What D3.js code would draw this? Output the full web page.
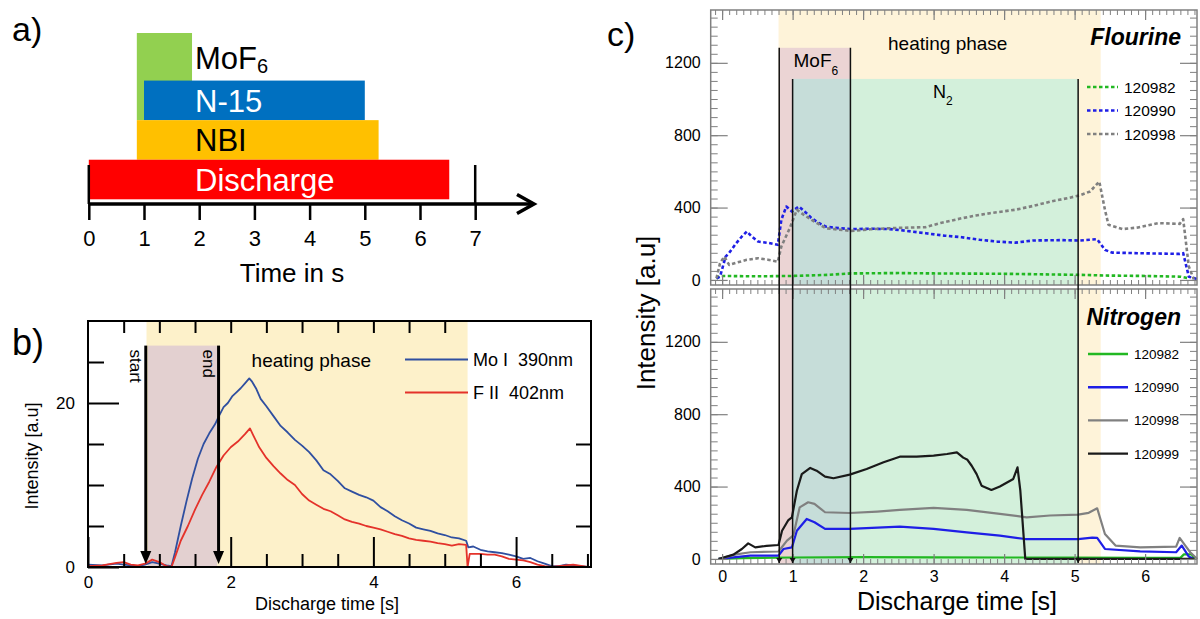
<!DOCTYPE html>
<html>
<head>
<meta charset="utf-8">
<script src="https://cdn.jsdelivr.net/npm/d3@7"></script>
<style>
  body { margin: 0; background: #fff; }
  svg text { font-family: "Liberation Sans", Arial, sans-serif; }
</style>
</head>
<body>
<div id="chart"></div>
<script>
var width = 1200, height = 619;
var FONT = '"Liberation Sans", Arial, sans-serif';

// ---------- a) timing ----------
var phaseNames = ["MoF6", "N-15", "NBI", "Discharge"];
var phaseStart = [0.87, 1.0, 0.87, 0.0];
var phaseEnd   = [1.87, 5.0, 5.25, 6.53];
var timeTicks  = [0, 1, 2, 3, 4, 5, 6, 7];

// ---------- b) line intensities (t [s], a.u.) ----------
var moI390 = [[0,0.3],[0.2,0.2],[0.4,0.4],[0.5,0.3],[0.6,0.2],[0.7,0.1],[0.8,0.3],[0.9,0.6],[1.0,0.4],[1.1,0.2],[1.17,0.1],
  [1.22,1.8],[1.3,5.0],[1.38,8.0],[1.46,10.8],[1.54,13.2],[1.62,15.0],[1.7,16.3],[1.78,17.4],[1.84,18.5],[1.9,19.5],
  [1.96,20.0],[2.02,20.8],[2.08,21.3],[2.14,21.8],[2.2,22.4],[2.26,23.0],[2.3,22.6],[2.36,21.7],[2.42,20.5],[2.5,19.6],
  [2.6,18.4],[2.7,17.2],[2.8,16.4],[2.9,15.5],[3.0,14.8],[3.1,14.0],[3.2,13.0],[3.3,11.8],[3.4,11.3],[3.5,10.5],[3.6,9.6],
  [3.7,9.2],[3.8,8.8],[3.9,8.5],[4.0,8.1],[4.1,7.3],[4.2,6.8],[4.3,6.2],[4.4,5.7],[4.5,5.3],[4.6,4.8],[4.7,4.6],[4.8,4.4],
  [4.9,4.1],[5.0,3.9],[5.1,3.6],[5.2,3.5],[5.3,3.2],[5.33,2.4],[5.4,2.5],[5.5,2.1],[5.6,1.9],[5.7,1.8],[5.8,1.7],[5.9,1.5],
  [6.0,1.3],[6.1,1.0],[6.2,1.1],[6.3,0.7],[6.4,0.4],[6.5,0.1],[6.6,0.1],[6.7,0.3],[6.8,0.2],[6.9,0.1],[7.0,0.0]];
var fII402 = [[0,0.1],[0.2,0.2],[0.4,0.5],[0.5,0.6],[0.6,0.3],[0.7,0.2],[0.8,0.4],[0.9,0.9],[1.0,0.6],[1.1,0.1],[1.17,0.0],
  [1.22,1.2],[1.3,3.2],[1.4,5.0],[1.5,7.0],[1.6,8.8],[1.7,10.4],[1.8,12.2],[1.9,13.6],[2.0,14.6],[2.1,15.3],[2.2,16.2],
  [2.27,16.9],[2.32,16.0],[2.4,14.6],[2.5,13.3],[2.6,12.3],[2.7,11.4],[2.8,10.6],[2.9,10.0],[3.0,8.9],[3.1,8.1],[3.2,7.6],
  [3.3,7.1],[3.4,6.8],[3.5,6.3],[3.6,5.8],[3.7,5.5],[3.8,5.3],[3.9,5.0],[4.0,4.8],[4.1,4.6],[4.2,4.3],[4.3,4.0],[4.4,3.8],
  [4.5,3.5],[4.6,3.3],[4.7,3.2],[4.8,3.1],[4.9,2.9],[5.0,2.8],[5.1,2.6],[5.2,2.8],[5.3,2.7],[5.32,0.0],[5.35,1.6],[5.5,1.6],
  [5.6,1.5],[5.7,1.5],[5.8,1.3],[5.9,1.0],[6.0,0.9],[6.1,0.8],[6.2,0.6],[6.3,0.3],[6.4,0.1],[6.5,0.0],[6.7,0.2],[6.8,0.3],[7.0,0.0]];
var legendB   = ["Mo I  390nm", "F II  402nm"];
var heatingB  = [0.82, 5.32];
var injectB   = [0.84, 1.81];   // MoF6 shaded window
var injectTopB = 27;
var arrowsB   = [0.81, 1.83];
var arrowTextB = ["start", "end"];

// ---------- c) fluorine / nitrogen ----------
var shots = ["120982", "120990", "120998", "120999"];
var fl120982 = [[-0.08,9],[-0.03,22],[0.5,20],[1.0,22],[1.5,28],[1.83,36],[2.5,38],[3.0,36],[4.0,34],[5.07,28],[5.5,24],[6.0,22],[6.5,18],[6.62,9]];
var fl120990 = [[-0.08,9],[-0.03,18],[0.05,129],[0.1,150],[0.2,203],[0.28,240],[0.35,268],[0.42,240],[0.51,212],[0.65,205],[0.79,194],
  [0.84,332],[0.91,406],[0.99,378],[1.09,406],[1.18,375],[1.27,341],[1.37,315],[1.47,295],[1.6,288],[1.83,281],[2.1,283],[2.38,281],
  [2.6,272],[2.89,258],[3.15,245],[3.4,236],[3.65,222],[3.9,212],[4.16,206],[4.41,218],[4.8,220],[5.07,218],[5.32,225],[5.43,166],
  [5.53,151],[6.0,147],[6.49,144],[6.54,148],[6.62,18],[6.74,4]];
var fl120998 = [[-0.08,9],[-0.03,92],[0.03,129],[0.1,83],[0.2,95],[0.35,111],[0.51,120],[0.65,112],[0.79,101],[0.84,185],[0.96,286],
  [1.06,388],[1.15,362],[1.27,332],[1.47,286],[1.83,271],[2.1,280],[2.38,286],[2.89,292],[3.1,315],[3.4,341],[3.6,356],[3.8,369],
  [4.16,388],[4.4,408],[4.67,434],[4.9,452],[5.07,467],[5.22,489],[5.35,544],[5.43,388],[5.48,305],[5.68,281],[5.9,290],[6.19,314],
  [6.49,310],[6.54,336],[6.62,74],[6.69,4]];
var ni120982 = [[-0.05,0],[0.3,5],[1.0,8],[2.0,10],[3.0,9],[4.0,8],[5.0,8],[6.0,6],[6.5,6],[6.55,25],[6.66,25],[6.7,0]];
var ni120990 = [[-0.05,0],[0.4,18],[0.8,18],[0.87,55],[0.99,64],[1.06,156],[1.2,221],[1.31,203],[1.46,166],[1.81,166],[2.52,179],
  [3.0,166],[3.47,147],[3.94,129],[4.3,110],[5.05,110],[5.25,118],[5.32,116],[5.43,55],[5.93,42],[6.44,37],[6.52,74],[6.62,13],[6.69,0]];
var ni120998 = [[-0.05,0],[0.2,25],[0.4,37],[0.8,41],[0.92,101],[1.01,130],[1.10,285],[1.22,313],[1.31,304],[1.46,258],[1.81,254],
  [2.2,262],[2.52,271],[3.0,282],[3.47,271],[3.94,249],[4.32,230],[4.65,240],[5.05,245],[5.2,255],[5.32,280],[5.43,138],[5.58,74],
  [5.93,64],[6.44,68],[6.49,116],[6.57,74],[6.64,37],[6.74,0]];
var ni120999 = [[-0.05,0],[0.16,24],[0.28,55],[0.37,86],[0.47,64],[0.63,72],[0.8,77],[0.85,156],[0.94,215],[0.99,230],[1.06,377],
  [1.13,469],[1.25,503],[1.34,488],[1.46,455],[1.58,446],[1.81,466],[2.05,497],[2.29,534],[2.52,565],[2.76,565],[3.0,571],[3.19,580],
  [3.33,589],[3.42,560],[3.48,548],[3.54,515],[3.61,469],[3.68,405],[3.82,381],[3.94,400],[4.13,442],[4.19,506],[4.23,377],[4.30,0],[6.7,0]];
var heatingC = [0.80, 5.37];
var mofC     = [0.81, 1.82];
var mofTopC  = 1283;
var n2C      = [1.0, 5.05];
var n2TopC   = 1111;
var yTicksC  = [0, 400, 800, 1200];
var xTicksC  = [0, 1, 2, 3, 4, 5, 6];

var svg = d3.select("#chart").append("svg")
  .attr("width", width)
  .attr("height", height);

function styleAxis(g, color, w, fs) {
  g.attr("font-family", FONT).attr("font-size", fs);
  g.select(".domain").remove();
  g.selectAll(".tick line").attr("stroke", color).attr("stroke-width", w);
  g.selectAll(".tick text").attr("fill", "#000");
}

// ================= panel a =================
var ga = svg.append("g");
var xa = d3.scaleLinear().domain([0, 7]).range([88.8, 475.2]);
var ya = d3.scaleBand().domain(phaseNames).range([41, 199.3]);
var barColor = { "MoF6": "#92D050", "N-15": "#0070C0", "NBI": "#FFC000", "Discharge": "#FF0000" };
var barText  = { "MoF6": "#000", "N-15": "#fff", "NBI": "#000", "Discharge": "#fff" };

ga.selectAll("rect.bar")
  .data(phaseNames)
  .enter().append("rect")
    .attr("class", "bar")
    .attr("x", function(d, i) { return xa(phaseStart[i]); })
    .attr("width", function(d, i) { return xa(phaseEnd[i]) - xa(phaseStart[i]); })
    .attr("y", function(d) { return d === "MoF6" ? ya(d) - 8 : ya(d); })
    .attr("height", function(d) { return d === "MoF6" ? ya.bandwidth() * 2 + 8 : ya.bandwidth(); })
    .attr("fill", function(d) { return barColor[d]; });

var labA = ga.selectAll("text.bar")
  .data(phaseNames)
  .enter().append("text")
    .attr("class", "bar")
    .attr("x", xa(phaseEnd[0]) + 3)
    .attr("y", function(d) { return ya(d) + ya.bandwidth() / 2 + (d === "MoF6" ? 8 : 11.5); })
    .attr("fill", function(d) { return barText[d]; })
    .style("font-size", "31px");
labA.each(function(d) {
  var t = d3.select(this);
  if (d === "MoF6") {
    t.append("tspan").text("MoF");
    t.append("tspan").attr("dy", 4).style("font-size", "20px").text("6");
  } else {
    t.text(d);
  }
});

// time axis with arrow
ga.append("line")
  .attr("x1", xa(0)).attr("x2", 533)
  .attr("y1", 204).attr("y2", 204)
  .attr("stroke", "#000").attr("stroke-width", 3.5);
ga.append("path")
  .attr("d", "M517,194.5L534,204L517,213.5")
  .attr("fill", "none").attr("stroke", "#000").attr("stroke-width", 3.5);
var axA = ga.append("g")
  .attr("transform", "translate(0,204)")
  .call(d3.axisBottom(xa).tickValues(timeTicks).tickSize(16).tickPadding(10).tickFormat(d3.format("d")));
styleAxis(axA, "#000", 2.5, 22);
ga.selectAll("line.long")
  .data([0, 7])
  .enter().append("line")
    .attr("class", "long")
    .attr("x1", function(d) { return xa(d); }).attr("x2", function(d) { return xa(d); })
    .attr("y1", 165).attr("y2", 204)
    .attr("stroke", "#000").attr("stroke-width", 2.5);
ga.append("text")
  .attr("x", 292).attr("y", 282)
  .attr("text-anchor", "middle")
  .style("font-size", "26px")
  .text("Time in s");
svg.append("text").attr("x", 12).attr("y", 41).style("font-size", "34px").text("a)");

// ================= panel b =================
var gb = svg.append("g");
var xb = d3.scaleLinear().domain([0, 7.05]).range([88, 591]);
var yb = d3.scaleLinear().domain([0, 30]).range([567, 321]);

gb.append("rect")
  .attr("x", xb(heatingB[0])).attr("y", yb(30))
  .attr("width", xb(heatingB[1]) - xb(heatingB[0]))
  .attr("height", yb(0) - yb(30))
  .attr("fill", "#FDF1CA");
gb.append("rect")
  .attr("x", xb(injectB[0])).attr("y", yb(injectTopB))
  .attr("width", xb(injectB[1]) - xb(injectB[0]))
  .attr("height", yb(0) - yb(injectTopB))
  .attr("fill", "#E3D0D0");

var lineB = d3.line()
  .x(function(d) { return xb(d[0]); })
  .y(function(d) { return yb(d[1]); });
var colorB = ["#2F4FA0", "#E4322A"];
[moI390, fII402].forEach(function(s, i) {
  gb.append("path").datum(s)
    .attr("d", lineB)
    .attr("fill", "none")
    .attr("stroke", colorB[i])
    .attr("stroke-width", 1.8)
    .attr("stroke-linejoin", "round");
});

// arrows start / end
arrowsB.forEach(function(t, i) {
  var x = xb(t), tip = yb(0) - 3;
  gb.append("line")
    .attr("x1", x).attr("x2", x)
    .attr("y1", yb(injectTopB)).attr("y2", tip - 10)
    .attr("stroke", "#000").attr("stroke-width", 3);
  gb.append("path")
    .attr("d", "M" + (x - 5.5) + "," + (tip - 13) + "L" + (x + 5.5) + "," + (tip - 13) + "L" + x + "," + tip + "Z")
    .attr("fill", "#000");
  gb.append("text")
    .attr("transform", "translate(" + (x - 16) + "," + (yb(injectTopB) + 4) + ") rotate(90)")
    .style("font-size", "17px")
    .text(arrowTextB[i]);
});

gb.append("text")
  .attr("x", 251.6).attr("y", 367)
  .style("font-size", "19px")
  .text("heating phase");

legendB.forEach(function(d, i) {
  var y = 359.5 + i * 33;
  gb.append("line")
    .attr("x1", 405).attr("x2", 468).attr("y1", y).attr("y2", y)
    .attr("stroke", colorB[i]).attr("stroke-width", 2);
  gb.append("text")
    .attr("x", 473).attr("y", y + 6.5)
    .style("font-size", "18px")
    .style("white-space", "pre")
    .text(d);
});

// axes b (ticks inward)
var axB1 = gb.append("g").attr("transform", "translate(0," + yb(0) + ")")
  .call(d3.axisBottom(xb).tickValues([0, 2, 4, 6]).tickSize(-30).tickPadding(13).tickFormat(d3.format("d")));
styleAxis(axB1, "#000", 2, 17);
var axB2 = gb.append("g").attr("transform", "translate(0," + yb(0) + ")")
  .call(d3.axisBottom(xb).tickValues([0.5, 1, 1.5, 2.5, 3, 3.5, 4.5, 5, 5.5, 6.5, 7]).tickSize(-13).tickFormat(""));
styleAxis(axB2, "#000", 2, 17);
var axB3 = gb.append("g").attr("transform", "translate(0," + yb(30) + ")")
  .call(d3.axisTop(xb).tickValues(d3.range(1, 11).map(function(k) { return k / 2; })).tickSize(-12).tickFormat(""));
styleAxis(axB3, "#000", 2, 17);
var axB4 = gb.append("g").attr("transform", "translate(" + xb(0) + ",0)")
  .call(d3.axisLeft(yb).tickValues([0, 20]).tickSize(-31).tickPadding(13).tickFormat(d3.format("d")));
styleAxis(axB4, "#000", 2, 17);
var axB5 = gb.append("g").attr("transform", "translate(" + xb(0) + ",0)")
  .call(d3.axisLeft(yb).tickValues([5, 10, 15, 25]).tickSize(-16).tickFormat(""));
styleAxis(axB5, "#000", 2, 17);
var axB6 = gb.append("g").attr("transform", "translate(" + xb(7.05) + ",0)")
  .call(d3.axisRight(yb).tickValues([5, 10, 15]).tickSize(-15).tickFormat(""));
styleAxis(axB6, "#000", 2, 17);
axB1.selectAll(".tick text").attr("dy", "0.45em");

gb.append("rect")
  .attr("x", xb(0)).attr("y", yb(30))
  .attr("width", xb(7.05) - xb(0)).attr("height", yb(0) - yb(30))
  .attr("fill", "none").attr("stroke", "#000").attr("stroke-width", 2);

gb.append("text")
  .attr("x", 327).attr("y", 610)
  .attr("text-anchor", "middle")
  .style("font-size", "18px")
  .text("Discharge time [s]");
gb.append("text")
  .attr("transform", "translate(37.5,456) rotate(-90)")
  .attr("text-anchor", "middle")
  .style("font-size", "18px")
  .text("Intensity [a.u]");
svg.append("text").attr("x", 12).attr("y", 355).style("font-size", "36px").text("b)");

// ================= panel c =================
var gc = svg.append("g");
var xc = d3.scaleLinear().domain([-0.162, 6.736]).range([710.7, 1197]);
var shotColor = { "120982": "#22B822", "120990": "#1E1EE6", "120998": "#808080", "120999": "#1A1A1A" };
var frameC = "#808080";

var panelsC = [
  { top: 10,  bottom: 285, title: "Flourine", series: [fl120982, fl120990, fl120998], dashed: true, full: false },
  { top: 289, bottom: 564, title: "Nitrogen", series: [ni120982, ni120990, ni120998, ni120999], dashed: false, full: true }
];

panelsC.forEach(function(p) {
  var yc = d3.scaleLinear().domain([-28, 1492]).range([p.bottom, p.top]);
  p.y = yc;
  var g = gc.append("g");
  function shade(span, topVal, color) {
    var yt = p.full ? yc(1492) : yc(topVal);
    g.append("rect")
      .attr("x", xc(span[0])).attr("width", xc(span[1]) - xc(span[0]))
      .attr("y", yt).attr("height", p.bottom - yt)
      .attr("fill", color);
  }
  shade(heatingC, 1492, "#FEF3D9");
  shade(mofC, mofTopC, "#EBD4D4");
  shade(n2C, n2TopC, "#D3F0DB");
  shade([n2C[0], mofC[1]], n2TopC, "#C6DDD9");

  var line = d3.line()
    .x(function(d) { return xc(d[0]); })
    .y(function(d) { return yc(d[1]); });
  p.series.forEach(function(s, i) {
    g.append("path").datum(s)
      .attr("d", line)
      .attr("fill", "none")
      .attr("stroke", shotColor[shots[i]])
      .attr("stroke-width", p.dashed ? 2.6 : 2.2)
      .attr("stroke-dasharray", p.dashed ? "3.5,2.5" : null)
      .attr("stroke-linejoin", "round");
  });

  // ticks inward
  var minorX = d3.range(-1, 68).map(function(k) { return k / 10; });
  var minorY = d3.range(0, 1500, 50);
  var a1 = g.append("g").attr("transform", "translate(0," + p.bottom + ")")
    .call(d3.axisBottom(xc).tickValues(minorX).tickSize(-5).tickFormat(""));
  styleAxis(a1, frameC, 1, 16);
  var a2 = g.append("g").attr("transform", "translate(0," + p.bottom + ")")
    .call(d3.axisBottom(xc).tickValues(xTicksC).tickSize(-10).tickPadding(7)
      .tickFormat(p.full ? d3.format("d") : ""));
  styleAxis(a2, frameC, 1.2, 16);
  var a3 = g.append("g").attr("transform", "translate(0," + p.top + ")")
    .call(d3.axisTop(xc).tickValues(minorX).tickSize(-5).tickFormat(""));
  styleAxis(a3, frameC, 1, 16);
  var a4 = g.append("g").attr("transform", "translate(0," + p.top + ")")
    .call(d3.axisTop(xc).tickValues(xTicksC).tickSize(-10).tickFormat(""));
  styleAxis(a4, frameC, 1.2, 16);
  var a5 = g.append("g").attr("transform", "translate(710.7,0)")
    .call(d3.axisLeft(yc).tickValues(minorY).tickSize(-7).tickFormat(""));
  styleAxis(a5, frameC, 1, 16);
  var a6 = g.append("g").attr("transform", "translate(710.7,0)")
    .call(d3.axisLeft(yc).tickValues(yTicksC).tickSize(-17).tickPadding(10).tickFormat(d3.format("d")));
  styleAxis(a6, frameC, 1.2, 16);
  var a7 = g.append("g").attr("transform", "translate(1197,0)")
    .call(d3.axisRight(yc).tickValues(minorY).tickSize(-7).tickFormat(""));
  styleAxis(a7, frameC, 1, 16);
  var a8 = g.append("g").attr("transform", "translate(1197,0)")
    .call(d3.axisRight(yc).tickValues(yTicksC).tickSize(-17).tickFormat(""));
  styleAxis(a8, frameC, 1.2, 16);

  g.append("rect")
    .attr("x", 710.7).attr("y", p.top)
    .attr("width", 1197 - 710.7).attr("height", p.bottom - p.top)
    .attr("fill", "none").attr("stroke", frameC).attr("stroke-width", 1.5);

  g.append("text")
    .attr("x", 1181).attr("y", p.top + (p.full ? 36 : 35))
    .attr("text-anchor", "end")
    .style("font-size", "23px").style("font-weight", "bold").style("font-style", "italic")
    .text(p.title);
});

// phase boundaries across both plots
var yTopC = panelsC[0].y, botC = panelsC[1].bottom;
[[mofC[0], mofTopC], [n2C[0], n2TopC], [mofC[1], mofTopC], [n2C[1], n2TopC]].forEach(function(b) {
  var x = xc(b[0]);
  gc.append("line")
    .attr("x1", x).attr("x2", x)
    .attr("y1", yTopC(b[1])).attr("y2", botC - 1)
    .attr("stroke", "#111").attr("stroke-width", 1.5);
  gc.append("path")
    .attr("d", "M" + (x - 3) + "," + (botC - 6) + "L" + (x + 3) + "," + (botC - 6) + "L" + x + "," + (botC - 1) + "Z")
    .attr("fill", "#111");
});

gc.append("text").attr("x", xc(3.2)).attr("y", 50).attr("text-anchor", "middle")
  .style("font-size", "19px").text("heating phase");
var tm = gc.append("text").attr("x", 793.5).attr("y", 67).style("font-size", "19px");
tm.append("tspan").text("MoF");
tm.append("tspan").attr("dy", 8).style("font-size", "12px").text("6");
var tn = gc.append("text").attr("x", 933).attr("y", 98).style("font-size", "18px");
tn.append("tspan").text("N");
tn.append("tspan").attr("dy", 7).style("font-size", "12px").text("2");

// legends
[0, 1, 2].forEach(function(i) {
  var y = 87 + i * 23.5;
  gc.append("line").attr("x1", 1087).attr("x2", 1118).attr("y1", y).attr("y2", y)
    .attr("stroke", shotColor[shots[i]]).attr("stroke-width", 2.6).attr("stroke-dasharray", "3.5,2.5");
  gc.append("text").attr("x", 1124).attr("y", y + 5.5).style("font-size", "15.5px").text(shots[i]);
});
shots.forEach(function(s, i) {
  var y = 354 + i * 33.2;
  gc.append("line").attr("x1", 1088).attr("x2", 1128).attr("y1", y).attr("y2", y)
    .attr("stroke", shotColor[s]).attr("stroke-width", 2.4);
  gc.append("text").attr("x", 1134).attr("y", y + 5).style("font-size", "13.5px").text(s);
});

gc.append("text")
  .attr("x", 957).attr("y", 610)
  .attr("text-anchor", "middle")
  .style("font-size", "25px")
  .text("Discharge time [s]");
gc.append("text")
  .attr("transform", "translate(655,313) rotate(-90)")
  .attr("text-anchor", "middle")
  .style("font-size", "26px")
  .text("Intensity [a.u]");
svg.append("text").attr("x", 607).attr("y", 46).style("font-size", "34px").text("c)");
</script>
</body>
</html>
